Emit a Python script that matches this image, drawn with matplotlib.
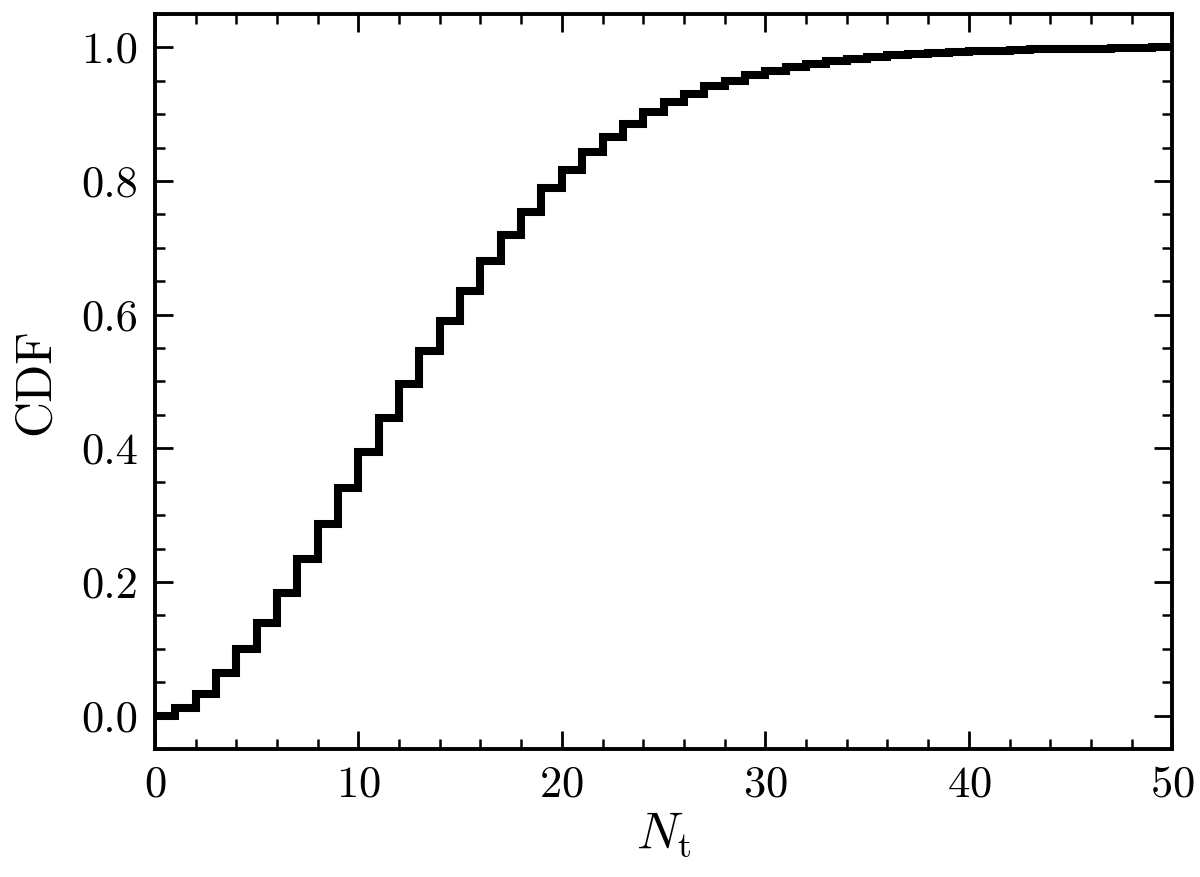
import numpy as np
import matplotlib
matplotlib.use("Agg")
import matplotlib.pyplot as plt
from matplotlib.ticker import MultipleLocator

# Step edges (N_t) and CDF values for each unit bin [n, n+1)
n_edges = list(range(0, 51))
cdf_values = [
    0.000, 0.012, 0.033, 0.063, 0.099, 0.139, 0.184, 0.234, 0.287, 0.340,
    0.394, 0.445, 0.496, 0.545, 0.591, 0.636, 0.680, 0.719, 0.754, 0.789,
    0.816, 0.844, 0.866, 0.886, 0.903, 0.918, 0.931, 0.942, 0.950, 0.958,
    0.965, 0.970, 0.975, 0.979, 0.982, 0.985, 0.988, 0.990, 0.992, 0.993,
    0.994, 0.995, 0.996, 0.997, 0.997, 0.998, 0.998, 0.999, 0.999, 1.000,
]

plt.rcParams['font.family'] = 'serif'
plt.rcParams['font.serif'] = ['cmr10']
plt.rcParams['mathtext.fontset'] = 'cm'
plt.rcParams['axes.formatter.use_mathtext'] = True

fig = plt.figure(figsize=(12, 8.77), dpi=100)
ax = fig.add_axes([0.129, 0.146, 0.848, 0.838])

ax.stairs(cdf_values, n_edges, baseline=None, color='black', linewidth=5.8)

ax.set_xlim(0, 50)
ax.set_ylim(-0.05, 1.05)
ax.xaxis.set_major_locator(MultipleLocator(10))
ax.xaxis.set_minor_locator(MultipleLocator(2))
ax.yaxis.set_major_locator(MultipleLocator(0.2))
ax.yaxis.set_minor_locator(MultipleLocator(0.05))
ax.yaxis.set_major_formatter(matplotlib.ticker.FormatStrFormatter('%.1f'))

ax.tick_params(which='both', direction='in', top=True, right=True, labelsize=32)
ax.tick_params(which='major', length=13, width=2.0, pad=12)
ax.tick_params(which='minor', length=7, width=1.8)
for s in ax.spines.values():
    s.set_linewidth(2.8)

ax.set_xlabel(r'$N_{\mathrm{t}}$', fontsize=37, labelpad=4)
ax.set_ylabel('CDF', fontsize=36, labelpad=16)

fig.savefig('out.png', dpi=100)
